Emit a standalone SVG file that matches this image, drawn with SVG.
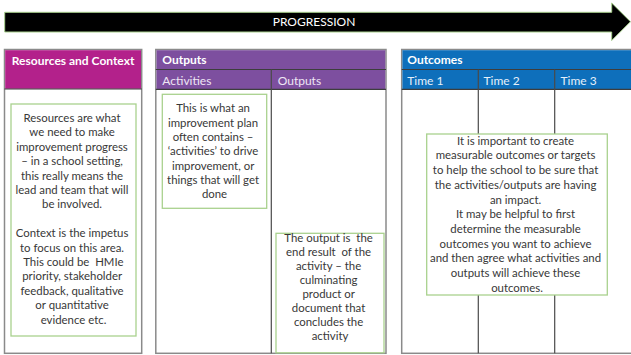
<svg xmlns="http://www.w3.org/2000/svg" width="631" height="355" viewBox="0 0 631 355">
  <style>
    text { font-family: Lato, "Liberation Sans", sans-serif; }
    .panel { fill: #ffffff; stroke: #8a8a8a; stroke-width: 1.5; }
    .rule { stroke: #3d3d3d; stroke-width: 1.2; fill: none; }
    .col { stroke: #4a4a4a; stroke-width: 1.2; fill: none; }
    .head { fill: #ffffff; font-size: 12px; font-weight: bold; }
    .sub { fill: #eee6f4; font-size: 12px; }
    .subb { fill: #e6f0fa; font-size: 12px; }
    .note { fill: #ffffff; stroke: #a9d18e; stroke-width: 1.3; }
    .body { fill: #383838; font-size: 11.4px; text-anchor: middle; }
  </style>

  <rect width="631" height="355" fill="#ffffff"/>

  <!-- progression banner arrow -->
  <g id="progression-arrow">
    <polygon points="4.7,12.3 611.7,12.3 611.7,3 630.5,21.7 611.7,40.5 611.7,32 4.7,32" fill="#000000" stroke="#a9d18e" stroke-width="1"/>
    <text x="314" y="26" fill="#ffffff" font-size="12" text-anchor="middle">PROGRESSION</text>
  </g>

  <!-- resources and context column -->
  <g id="resources-context">
    <rect class="panel" x="4.5" y="49.5" width="137.2" height="303.8"/>
    <rect x="5.2" y="50.2" width="135.8" height="38.6" fill="#b3218b"/>
    <line class="rule" x1="4.5" y1="89" x2="141.7" y2="89"/>
    <text class="head" x="73.1" y="64.5" text-anchor="middle">Resources and Context</text>
  </g>

  <!-- outputs column: activities and outputs -->
  <g id="outputs">
    <rect class="panel" x="155.8" y="49.5" width="230.2" height="303.8"/>
    <rect x="156.5" y="50.2" width="228.8" height="38.8" fill="#7d4f9f"/>
    <line class="rule" x1="155.8" y1="69.5" x2="386" y2="69.5"/>
    <line class="rule" x1="155.8" y1="89.3" x2="386" y2="89.3"/>
    <line class="col" x1="271.3" y1="69.5" x2="271.3" y2="353.3"/>
    <text class="head" x="162.3" y="64.3">Outputs</text>
    <text class="sub" x="162.3" y="84.6">Activities</text>
    <text class="sub" x="277.7" y="84.6">Outputs</text>
  </g>

  <!-- outcomes column, running off the right edge -->
  <g id="outcomes">
    <rect class="panel" x="401.7" y="49.5" width="240" height="303.8"/>
    <rect x="402.4" y="50.2" width="240" height="38.8" fill="#0e6fbb"/>
    <line class="rule" x1="401.7" y1="69.5" x2="641" y2="69.5"/>
    <line class="rule" x1="401.7" y1="89.3" x2="641" y2="89.3"/>
    <line class="col" x1="478.3" y1="69.5" x2="478.3" y2="353.3"/>
    <line class="col" x1="554.7" y1="69.5" x2="554.7" y2="353.3"/>
    <text class="head" x="407.3" y="64.3">Outcomes</text>
    <text class="subb" x="407.3" y="84.6">Time 1</text>
    <text class="subb" x="483.5" y="84.6">Time 2</text>
    <text class="subb" x="560.5" y="84.6">Time 3</text>
  </g>

  <!-- explanatory notes -->
  <g id="note-resources">
    <rect class="note" x="11" y="104" width="125" height="232"/>
    <text class="body" y="122">
      <tspan x="73.5">Resources are what</tspan>
      <tspan x="73.5" dy="14.4">we need to make</tspan>
      <tspan x="73.5" dy="14.4">improvement progress</tspan>
      <tspan x="73.5" dy="14.4">– in a school setting,</tspan>
      <tspan x="73.5" dy="14.4">this really means the</tspan>
      <tspan x="73.5" dy="14.4">lead and team that will</tspan>
      <tspan x="73.5" dy="14.4">be involved.</tspan>
      <tspan x="73.5" dy="28.8">Context is the impetus</tspan>
      <tspan x="73.5" dy="14.4">to focus on this area.</tspan>
      <tspan x="73.5" dy="14.4" xml:space="preserve"> This could be  HMIe</tspan>
      <tspan x="73.5" dy="14.4">priority, stakeholder</tspan>
      <tspan x="73.5" dy="14.4">feedback, qualitative</tspan>
      <tspan x="73.5" dy="14.4">or quantitative</tspan>
      <tspan x="73.5" dy="14.4">evidence etc.</tspan>
    </text>
  </g>

  <g id="note-activities">
    <rect class="note" x="162.3" y="94.3" width="104.4" height="114"/>
    <text class="body" y="112.3">
      <tspan x="214.5">This is what an</tspan>
      <tspan x="214.5" dy="14.3">improvement plan</tspan>
      <tspan x="214.5" dy="14.3">often contains –</tspan>
      <tspan x="214.5" dy="14.3">‘activities’ to drive</tspan>
      <tspan x="214.5" dy="14.3">improvement, or</tspan>
      <tspan x="214.5" dy="14.3">things that will get</tspan>
      <tspan x="214.5" dy="14.3">done</tspan>
    </text>
  </g>

  <g id="note-outputs">
    <rect class="note" x="276" y="233.3" width="108" height="119.5"/>
    <text class="body" y="242.3">
      <tspan x="330" xml:space="preserve">The output is  the</tspan>
      <tspan x="330" dy="14" xml:space="preserve">end result  of the</tspan>
      <tspan x="330" dy="14">activity – the</tspan>
      <tspan x="330" dy="14">culminating</tspan>
      <tspan x="330" dy="14">product or</tspan>
      <tspan x="330" dy="14">document that</tspan>
      <tspan x="330" dy="14">concludes the</tspan>
      <tspan x="330" dy="14">activity</tspan>
    </text>
  </g>

  <g id="note-outcomes">
    <rect class="note" x="426.7" y="134" width="180.6" height="161"/>
    <text class="body" y="144.7">
      <tspan x="517">It is important to create</tspan>
      <tspan x="517" dy="14.7">measurable outcomes or targets</tspan>
      <tspan x="517" dy="14.7">to help the school to be sure that</tspan>
      <tspan x="517" dy="14.7">the activities/outputs are having</tspan>
      <tspan x="517" dy="14.7">an impact.</tspan>
      <tspan x="517" dy="14.7">It may be helpful to first</tspan>
      <tspan x="517" dy="14.7">determine the measurable</tspan>
      <tspan x="517" dy="14.7">outcomes you want to achieve</tspan>
      <tspan x="517" dy="14.7">and then agree what activities and</tspan>
      <tspan x="517" dy="14.7">outputs will achieve these</tspan>
      <tspan x="517" dy="14.7">outcomes.</tspan>
    </text>
  </g>
</svg>
